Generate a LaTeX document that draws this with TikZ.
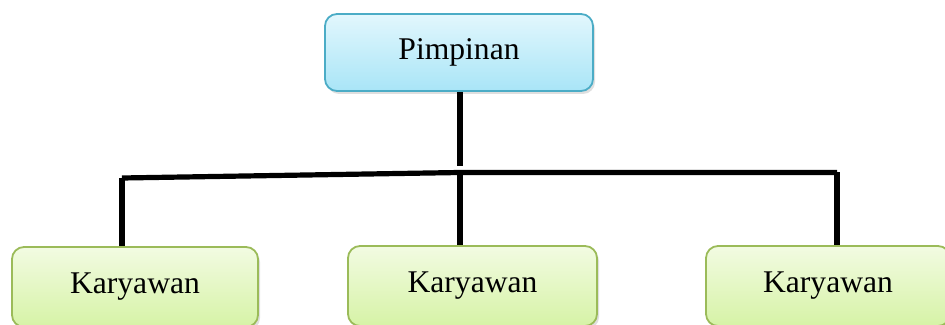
\documentclass[tikz,border=0pt]{standalone}
\usepackage{fontspec}
\setmainfont{Liberation Serif}
\usetikzlibrary{shadows}
\definecolor{topA}{HTML}{E2F7FD}
\definecolor{topB}{HTML}{A9E5F7}
\definecolor{topD}{HTML}{4BACC6}
\definecolor{botA}{HTML}{F2FBE2}
\definecolor{botB}{HTML}{D6F3A6}
\definecolor{botD}{HTML}{9BBB59}
\tikzset{
  boxbase/.style={rounded corners=6pt, line width=0.9pt, align=center,
    font=\fontsize{15.8}{19}\selectfont,
    drop shadow={opacity=0.25, shadow xshift=1pt, shadow yshift=-1.5pt}},
  topbox/.style={boxbase, draw=topD, top color=topA, bottom color=topB,
    minimum width=134pt, minimum height=38.5pt},
  botbox/.style={boxbase, draw=botD, top color=botA, bottom color=botB,
    minimum height=40pt},
  link/.style={line width=2.6pt, black}
}
\begin{document}
\begin{tikzpicture}[x=0.5pt,y=-0.5pt]
\useasboundingbox (0,0) rectangle (945,325);
\node[topbox] (p) at (459,52.5) {Pimpinan};
\node[botbox, minimum width=123pt] (k1) at (135,287) {Karyawan};
\node[botbox, minimum width=124.5pt] (k2) at (472.5,286) {Karyawan};
\node[botbox, minimum width=122pt] (k3) at (828,286) {Karyawan};
\coordinate (t) at (460,166);
\coordinate (h1) at (122,178);
\coordinate (h2) at (460,172.5);
\coordinate (h3) at (837,172.5);
\draw[link] (p.south -| t) -- (t);
\draw[link] (h1) -- (h2) -- (h3);
\draw[link] (h1) -- (h1 |- k1.north);
\draw[link] (h2) -- (h2 |- k2.north);
\draw[link] (h3) -- (h3 |- k3.north);
\end{tikzpicture}
\end{document}
